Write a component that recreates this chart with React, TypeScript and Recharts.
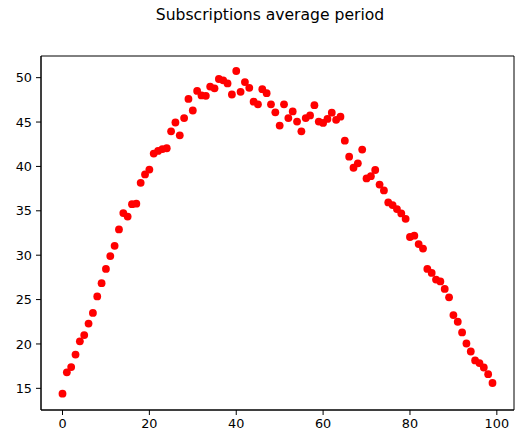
import { ScatterChart, Scatter, XAxis, YAxis, ReferenceArea } from "recharts"

const periods = Array.from({ length: 100 }, (_, i) => i)

const avgLength = [
  14.4, 16.8, 17.4, 18.8, 20.3, 21.0, 22.3, 23.5, 25.35, 26.85,
  28.45, 29.9, 31.05, 32.9, 34.75, 34.35, 35.75, 35.8, 38.15, 39.1,
  39.65, 41.45, 41.75, 41.95, 42.05, 43.95, 44.95, 43.5, 45.45, 47.6,
  46.3, 48.5, 48.0, 47.95, 49.0, 48.8, 49.85, 49.7, 49.35, 48.1,
  50.75, 48.4, 49.5, 48.85, 47.3, 47.0, 48.7, 48.25, 47.0, 46.1,
  44.6, 47.0, 45.45, 46.2, 45.05, 43.95, 45.45, 45.75, 46.9, 45.05,
  44.9, 45.35, 46.05, 45.25, 45.6, 42.9, 41.1, 39.85, 40.35, 41.9,
  38.65, 38.9, 39.6, 37.95, 37.3, 35.95, 35.65, 35.2, 34.7, 34.1,
  32.05, 32.2, 31.25, 30.75, 28.45, 28.0, 27.25, 27.05, 26.2, 25.25,
  23.25, 22.5, 21.3, 20.05, 19.15, 18.15, 17.85, 17.35, 16.6, 15.6,
]

const xTicks = [0, 20, 40, 60, 80, 100]
const yTicks = [15, 20, 25, 30, 35, 40, 45, 50]

const xDomain = [-4.95, 103.95]
const yDomain = [12.56, 52.44]

const data = periods.map((p, i) => ({ period: p, value: avgLength[i] }))

const FONT = "DejaVu Sans"
const tickStyle = { fill: "#000", fontSize: 12.8, fontFamily: FONT }

export default function App() {
  return (
    <div style={{ position: "absolute", left: 0, top: 0, width: 515, height: 434, background: "#fff" }}>
      <div
        style={{
          position: "absolute",
          left: 0,
          top: 8,
          width: 540,
          textAlign: "center",
          fontFamily: FONT,
          fontSize: 15.6,
          lineHeight: 1,
          color: "#000",
        }}
      >
        Subscriptions average period
      </div>
      <ScatterChart width={515} height={434} margin={{ top: 56, right: 1, bottom: 0, left: 0 }}>
        <XAxis
          dataKey="period"
          type="number"
          domain={xDomain}
          allowDataOverflow
          ticks={xTicks}
          height={24}
          tick={tickStyle}
          tickSize={5}
          tickMargin={4}
          stroke="#000"
        />
        <YAxis
          dataKey="value"
          type="number"
          domain={yDomain}
          allowDataOverflow
          ticks={yTicks}
          width={41}
          tick={tickStyle}
          tickSize={5}
          tickMargin={4}
          stroke="#000"
        />
        {/* box around the plot like matplotlib spines */}
        <ReferenceArea
          x1={xDomain[0]}
          x2={xDomain[1]}
          y1={yDomain[0]}
          y2={yDomain[1]}
          fill="none"
          stroke="#000"
          strokeWidth={1}
          ifOverflow="visible"
        />
        <Scatter
          data={data}
          fill="#ff0000"
          isAnimationActive={false}
          shape={(props: any) => <circle cx={props.cx} cy={props.cy} r={3.9} fill="#ff0000" />}
        />
      </ScatterChart>
    </div>
  )
}
